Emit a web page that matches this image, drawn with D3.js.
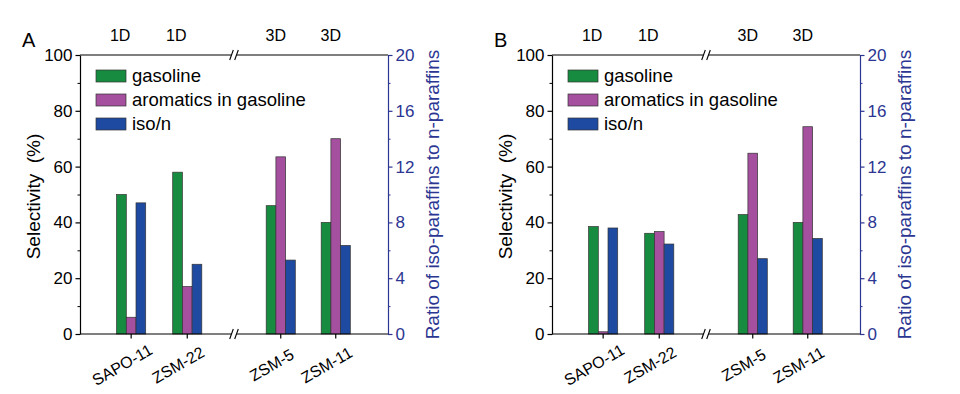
<!DOCTYPE html>
<html>
<head>
<meta charset="utf-8">
<title>Selectivity</title>
<style>
	body { margin: 0; background: #fff; }
	text { font-family: "Liberation Sans", Arial, sans-serif; }
</style>
</head>
<body>
<script src="https://d3js.org/d3.v7.min.js"></script>
<script>
	var categories = ["SAPO-11", "ZSM-22", "ZSM-5", "ZSM-11"];
	var catPos = [0.93, 1.95, 3.65, 4.65];
	var topLabels = ["1D", "1D", "3D", "3D"];
	var breakPos = 2.8;
	var seriesNames = ["gasoline", "aromatics in gasoline", "iso/n"];
	var gasolineA = [50, 58, 46, 40];
	var aromaticsA = [6, 17, 63.5, 70];
	var isoA = [9.4, 5.0, 5.3, 6.35];
	var gasolineB = [38.5, 36.1, 42.8, 40.0];
	var aromaticsB = [0.8, 36.7, 64.8, 74.3];
	var isoB = [7.6, 6.45, 5.4, 6.85];
	var leftTicks = [0, 20, 40, 60, 80, 100];
	var leftMinor = [10, 30, 50, 70, 90];
	var rightTicks = [0, 4, 8, 12, 16, 20];
	var rightMinor = [2, 6, 10, 14, 18];

	var W = 960, H = 394;
	var pw = 308, ph = 279, topY = 55;
	var colors = ["#178c40", "#a4509f", "#1e4ba1"];
	var blueAxis = "#2b3592";
	var barW = 9.7;

	var svg = d3.select("body").append("svg")
		.attr("width", W)
		.attr("height", H);

	var x = d3.scaleLinear().domain([0, 5.6]).range([0, pw]);
	var yL = d3.scaleLinear().domain([0, 100]).range([ph, 0]);
	var yR = d3.scaleLinear().domain([0, 20]).range([ph, 0]);

	function panel(left, letter, gas, aro, iso) {
		var g = svg.append("g").attr("transform", "translate(" + left + "," + topY + ")");

		// bars
		var series = [gas, aro, iso];
		series.forEach(function(vals, s) {
			g.selectAll(".bar" + s)
				.data(vals)
				.enter()
				.append("rect")
					.attr("class", "bar" + s)
					.attr("x", function(d, i) { return x(catPos[i]) + (s - 1.5) * barW })
					.attr("y", function(d) { return s == 2 ? yR(d) : yL(d) })
					.attr("width", barW)
					.attr("height", function(d) { return ph - (s == 2 ? yR(d) : yL(d)) })
					.attr("fill", colors[s])
					.attr("stroke", "#333")
					.attr("stroke-width", 0.7);
		});

		// top & bottom lines with break
		var bx = x(breakPos);
		[0, ph].forEach(function(yy) {
			g.append("line").attr("x1", 0).attr("x2", bx - 3).attr("y1", yy).attr("y2", yy)
				.attr("stroke", "#000").attr("stroke-width", 1.2);
			g.append("line").attr("x1", bx + 3).attr("x2", pw).attr("y1", yy).attr("y2", yy)
				.attr("stroke", "#000").attr("stroke-width", 1.2);
			[-2.5, 2.5].forEach(function(o) {
				g.append("line")
					.attr("x1", bx + o - 1.8).attr("y1", yy + 5)
					.attr("x2", bx + o + 1.8).attr("y2", yy - 5)
					.attr("stroke", "#000").attr("stroke-width", 1.1);
			});
		});

		// x ticks
		g.selectAll(".xt")
			.data(catPos)
			.enter()
			.append("line")
				.attr("class", "xt")
				.attr("x1", function(d) { return x(d) })
				.attr("x2", function(d) { return x(d) })
				.attr("y1", ph).attr("y2", ph + 4.5)
				.attr("stroke", "#000").attr("stroke-width", 1.2);

		g.selectAll(".xl")
			.data(categories)
			.enter()
			.append("text")
				.attr("class", "xl")
				.attr("transform", function(d, i) { return "translate(" + (x(catPos[i]) - 9) + "," + (ph + 31) + ") rotate(-30)" })
				.attr("text-anchor", "middle")
				.attr("dominant-baseline", "central")
				.attr("font-size", 16)
				.text(function(d) { return d });

		g.selectAll(".tl")
			.data(topLabels)
			.enter()
			.append("text")
				.attr("class", "tl")
				.attr("x", function(d, i) { return x(catPos[i]) - (i < 2 ? 11 : 5) })
				.attr("y", -14)
				.attr("text-anchor", "middle")
				.attr("font-size", 16)
				.text(function(d) { return d });

		// left axis
		var la = g.append("g").call(d3.axisLeft(yL).tickValues(leftTicks).tickSize(4.5).tickSizeOuter(0).tickPadding(3));
		la.select(".domain").attr("stroke-width", 1.2);
		la.selectAll(".tick line").attr("stroke-width", 1.2);
		la.selectAll("text").attr("font-size", 17).attr("font-family", "Liberation Sans, Arial, sans-serif");
		var lm = g.append("g").call(d3.axisLeft(yL).tickValues(leftMinor).tickSize(2.5).tickFormat(""));
		lm.select(".domain").remove();

		// right axis
		var ra = g.append("g").attr("transform", "translate(" + pw + ",0)")
			.call(d3.axisRight(yR).tickValues(rightTicks).tickSize(4.5).tickSizeOuter(0).tickPadding(3));
		ra.select(".domain").attr("stroke", blueAxis).attr("stroke-width", 1.2);
		ra.selectAll(".tick line").attr("stroke", blueAxis).attr("stroke-width", 1.2);
		ra.selectAll("text").attr("fill", blueAxis).attr("font-size", 17).attr("font-family", "Liberation Sans, Arial, sans-serif");
		var rm = g.append("g").attr("transform", "translate(" + pw + ",0)")
			.call(d3.axisRight(yR).tickValues(rightMinor).tickSize(2.5).tickFormat(""));
		rm.select(".domain").remove();
		rm.selectAll(".tick line").attr("stroke", blueAxis);

		// axis titles
		g.append("text")
			.attr("transform", "translate(-40," + (ph / 2 + 2) + ") rotate(-90)")
			.attr("text-anchor", "middle")
			.attr("font-size", 19)
			.text("Selectivity\u00a0 (%)");
		g.append("text")
			.attr("transform", "translate(" + (pw + 51) + "," + (ph / 2) + ") rotate(-90)")
			.attr("text-anchor", "middle")
			.attr("font-size", 19)
			.attr("fill", blueAxis)
			.text("Ratio of iso-paraffins to n-paraffins");

		// panel letter
		g.append("text")
			.attr("x", -58).attr("y", -8)
			.attr("font-size", 20)
			.text(letter);

		// legend
		var lg = g.selectAll(".lg")
			.data(seriesNames)
			.enter()
			.append("g")
				.attr("class", "lg")
				.attr("transform", function(d, i) { return "translate(16," + (15 + i * 24) + ")" });
		lg.append("rect")
			.attr("width", 30).attr("height", 12)
			.attr("fill", function(d, i) { return colors[i] })
			.attr("stroke", "#333").attr("stroke-width", 0.7);
		lg.append("text")
			.attr("x", 36).attr("y", 12)
			.attr("font-size", 18.5)
			.text(function(d) { return d });
	}

	panel(80, "A", gasolineA, aromaticsA, isoA);
	panel(552, "B", gasolineB, aromaticsB, isoB);
</script>
</body>
</html>
